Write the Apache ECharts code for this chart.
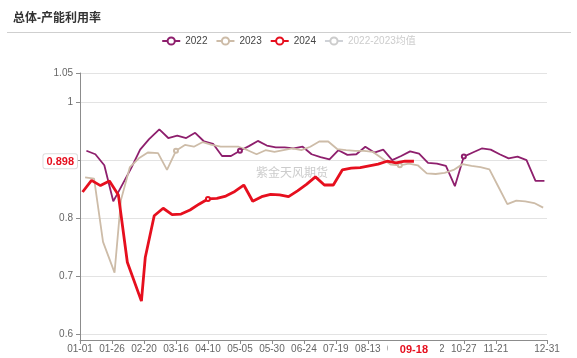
<!DOCTYPE html>
<html><head><meta charset="utf-8">
<script src="https://cdn.jsdelivr.net/npm/echarts@6/dist/echarts.min.js"></script>
<style>html,body{margin:0;padding:0;background:#fff}#c{width:577px;height:358px}</style>
</head><body><div id="c"></div>
<script>
// x categories: every day of a leap year, MM-DD
const monthDays = [31,29,31,30,31,30,31,31,30,31,30,31];
const dayLabels = [];
monthDays.forEach((n, m) => { for (let d = 1; d <= n; d++) dayLabels.push(String(m + 1).padStart(2, '0') + '-' + String(d).padStart(2, '0')); });

const seriesNames = ['2022', '2023', '2024', '2022-2023均值'];

const dates2022 = ['01-06','01-13','01-20','01-27','01-30','02-10','02-17','02-24','03-03','03-10','03-17','03-24','03-31','04-07','04-14','04-21','04-28','05-05','05-12','05-19','05-26','06-02','06-09','06-16','06-23','06-30','07-07','07-14','07-21','07-28','08-04','08-11','08-18','08-25','09-01','09-08','09-15','09-22','09-29','10-06','10-13','10-20','10-27','11-03','11-10','11-17','11-24','12-01','12-08','12-15','12-22','12-29'];
const values2022 = [0.916,0.910,0.891,0.829,0.841,0.886,0.918,0.936,0.953,0.938,0.942,0.938,0.947,0.932,0.928,0.907,0.907,0.916,0.924,0.933,0.925,0.922,0.922,0.920,0.923,0.910,0.905,0.901,0.917,0.909,0.910,0.923,0.913,0.918,0.900,0.907,0.915,0.911,0.895,0.894,0.890,0.855,0.906,0.913,0.920,0.918,0.910,0.903,0.906,0.900,0.864,0.864];

const dates2023 = ['01-05','01-12','01-19','01-28','02-02','02-09','02-16','02-23','03-02','03-09','03-16','03-23','03-30','04-06','04-13','04-20','04-27','05-04','05-11','05-18','05-25','06-01','06-08','06-15','06-22','06-29','07-06','07-13','07-20','07-27','08-03','08-10','08-17','08-24','08-31','09-07','09-14','09-21','09-28','10-05','10-12','10-19','10-26','11-02','11-09','11-16','11-23','11-30','12-07','12-14','12-21','12-28'];
const values2023 = [0.870,0.868,0.759,0.706,0.831,0.888,0.903,0.913,0.912,0.883,0.916,0.926,0.923,0.931,0.926,0.923,0.923,0.923,0.917,0.910,0.917,0.914,0.917,0.920,0.917,0.923,0.932,0.932,0.919,0.917,0.916,0.916,0.914,0.903,0.892,0.891,0.894,0.891,0.877,0.876,0.878,0.883,0.893,0.890,0.888,0.884,0.854,0.824,0.830,0.829,0.826,0.818];

const dates2024 = ['01-03','01-10','01-17','01-24','01-31','02-07','02-18','02-21','02-28','03-06','03-13','03-20','03-27','04-03','04-10','04-17','04-24','05-01','05-08','05-15','05-22','05-29','06-05','06-12','06-19','06-26','07-03','07-10','07-17','07-24','07-31','08-07','08-14','08-21','08-28','09-04','09-11','09-18'];
const values2024 = [0.845,0.865,0.856,0.864,0.840,0.724,0.657,0.732,0.804,0.817,0.806,0.807,0.814,0.824,0.833,0.834,0.838,0.846,0.857,0.829,0.837,0.841,0.840,0.837,0.847,0.858,0.871,0.857,0.857,0.883,0.886,0.887,0.890,0.893,0.898,0.895,0.898,0.898];

const datesAvg = [];
const valuesAvg = [];

const latestDate = '09-18';
const latestValue = 0.898;

const colors = ['#8e1f6d', '#cdbca8', '#e60f1e', '#bbbbbb'];
const FONT = "'Liberation Sans', 'Noto Sans CJK SC', sans-serif";

const pair = (ds, vs) => ds.map((d, i) => [d, vs[i]]);
const labelShown = (idx) => (idx % 25 === 0 && idx <= 325) || idx === dayLabels.length - 1;

const chart = echarts.init(document.getElementById('c'), null, { renderer: 'canvas' });
chart.setOption({
  animation: false,
  color: colors,
  textStyle: { fontFamily: FONT },
  title: {
    text: '总体-产能利用率', left: 13, top: 13, padding: 0,
    textStyle: { fontSize: 12, fontWeight: 'bold', color: '#333', fontFamily: FONT }
  },
  graphic: [
    { type: 'line', shape: { x1: 7, y1: 32.5, x2: 571, y2: 32.5 }, style: { stroke: '#cfcfcf', lineWidth: 1 }, silent: true },
    { type: 'text', left: 256, top: 168, z: 0, silent: true,
      style: { text: '紫金天风期货', fontSize: 12, fill: '#cccccc', fontFamily: FONT } }
  ],
  legend: {
    top: 36, left: 'center', padding: 0,
    itemWidth: 18, itemHeight: 9, itemGap: 8,
    textStyle: { fontSize: 10, color: '#444', fontFamily: FONT },
    inactiveColor: '#cccccc',
    data: seriesNames,
    selected: { '2022-2023均值': false }
  },
  grid: { left: 80, right: 30, top: 73, bottom: 18, containLabel: false },
  xAxis: {
    type: 'category', data: dayLabels, boundaryGap: false,
    axisLine: { lineStyle: { color: '#8c8c8c' } },
    axisTick: { length: 4, interval: (i) => labelShown(i), lineStyle: { color: '#8c8c8c' } },
    axisLabel: { interval: (i) => labelShown(i), margin: 4, fontSize: 10, color: '#666', fontFamily: FONT },
    splitLine: { show: false },
    axisPointer: {
      show: true, status: 'show', value: dayLabels.indexOf(latestDate), type: 'line',
      lineStyle: { opacity: 0 }, triggerTooltip: false,
      label: { show: true, color: '#e60f1e', fontWeight: 'bold', fontSize: 11, fontFamily: FONT,
        backgroundColor: '#fff', padding: [3, 12, 3, 12], borderWidth: 0, margin: 3 }
    }
  },
  yAxis: {
    type: 'value', min: 0.59, max: 1.05,
    axisLine: { show: true, lineStyle: { color: '#8c8c8c' } },
    axisTick: { show: true, length: 4, lineStyle: { color: '#8c8c8c' } },
    axisLabel: { showMinLabel: false, margin: 7, fontSize: 10, color: '#666', fontFamily: FONT },
    splitLine: { lineStyle: { color: '#e3e3e3' } },
    axisPointer: {
      show: true, status: 'show', value: latestValue, type: 'line',
      lineStyle: { opacity: 0 }, triggerTooltip: false,
      label: { show: true, color: '#e60f1e', fontWeight: 'bold', fontSize: 11, fontFamily: FONT,
        formatter: (p) => Number(p.value).toFixed(3),
        backgroundColor: '#fff', padding: [2, 3, 1, 3], borderColor: '#dddddd', borderWidth: 1, borderRadius: 2, margin: 3 }
    }
  },
  series: [
    { name: seriesNames[0], type: 'line', data: pair(dates2022, values2022), symbol: 'emptyCircle', symbolSize: 4,
      lineStyle: { width: 1.8 }, itemStyle: { color: colors[0] }, z: 2 },
    { name: seriesNames[1], type: 'line', data: pair(dates2023, values2023), symbol: 'emptyCircle', symbolSize: 4,
      lineStyle: { width: 1.8 }, itemStyle: { color: colors[1] }, z: 2 },
    { name: seriesNames[2], type: 'line', data: pair(dates2024, values2024), symbol: 'emptyCircle', symbolSize: 4,
      lineStyle: { width: 2.8 }, itemStyle: { color: colors[2] }, z: 3 },
    { name: seriesNames[3], type: 'line', data: pair(datesAvg, valuesAvg), symbol: 'emptyCircle', symbolSize: 4,
      lineStyle: { width: 1.8 }, itemStyle: { color: colors[3] }, z: 1 }
  ]
});
</script>
</body></html>
